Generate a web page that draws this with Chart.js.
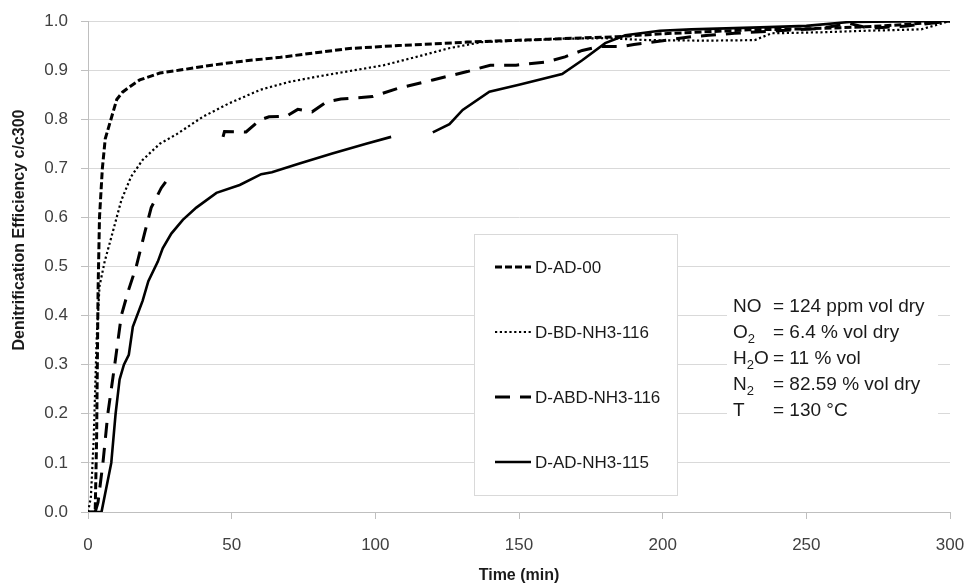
<!DOCTYPE html>
<html>
<head>
<meta charset="utf-8">
<script src="https://cdn.jsdelivr.net/npm/chart.js@4.4.1/dist/chart.umd.min.js"></script>
<style>
  html, body { margin: 0; padding: 0; background: #fff; }
  canvas { display: block; }
</style>
</head>
<body>
<canvas id="chart" width="969" height="584"></canvas>
<script>
// Denitrification efficiency vs time, four samples
const seriesNames = ['D-AD-00', 'D-BD-NH3-116', 'D-ABD-NH3-116', 'D-AD-NH3-115'];

// time (min) / efficiency c/c300 ; null = break in the line
const adTime = [0, 2.5, 3, 3.5, 4, 5, 6, 7.5, 10, 12, 14.5, 18, 25, 32, 43, 55, 67, 80, 91, 108, 132, 160, 184, 200, 230, 250, 270, 285, 300];
const adEff  = [0, 0, 0.15, 0.45, 0.6, 0.7, 0.76, 0.79, 0.84, 0.855, 0.866, 0.88, 0.894, 0.9, 0.91, 0.919, 0.926, 0.936, 0.944, 0.95, 0.957, 0.963, 0.968, 0.974, 0.982, 0.984, 0.988, 0.993, 1.0];

const bdTime = [0, 1, 2, 3, 4, 5.8, 8.6, 11.6, 15, 19, 25, 31, 40, 49, 60, 70, 80, 90, 103, 115, 126, 137, 150, 165, 180, 195, 215, 232, 238, 255, 270, 290, 300];
const bdEff  = [0, 0.03, 0.15, 0.35, 0.46, 0.51, 0.57, 0.635, 0.683, 0.717, 0.75, 0.77, 0.805, 0.832, 0.86, 0.876, 0.887, 0.897, 0.91, 0.928, 0.945, 0.957, 0.96, 0.964, 0.965, 0.961, 0.96, 0.961, 0.975, 0.977, 0.98, 0.983, 1.0];

const abdTime = [2.5, 3.5, 5.2, 6.9, 9.3, 11.6, 14, 16.8, 19.7, 22, 25.5, 28, 37, 47, 47.5, 55, 59.7, 63, 69, 73, 78, 83, 88, 99, 108, 120, 132, 140, 149, 160, 166, 172, 178, 186, 190, 194, 200, 210, 216, 225, 240, 255, 265, 272, 285, 300];
const abdEff  = [0, 0.02, 0.1, 0.2, 0.3, 0.4, 0.45, 0.5, 0.568, 0.62, 0.66, 0.68, null, 0.764, 0.775, 0.774, 0.798, 0.805, 0.806, 0.82, 0.815, 0.835, 0.841, 0.846, 0.863, 0.88, 0.897, 0.91, 0.91, 0.917, 0.927, 0.94, 0.948, 0.948, 0.952, 0.955, 0.96, 0.968, 0.971, 0.975, 0.98, 0.985, 0.995, 0.985, 0.99, 1.0];

const adnTime = [0, 4.7, 8.1, 9.6, 11, 12.5, 14.2, 15.6, 19, 21, 24.3, 26, 29, 33, 37.7, 44.7, 52.8, 60.3, 64, 73.6, 85, 96.8, 105.5, 112, 120, 125.8, 130.4, 139.7, 150, 165, 172, 180, 187, 199, 210, 234, 250, 265, 300];
const adnEff  = [0, 0, 0.1, 0.2, 0.27, 0.3, 0.32, 0.377, 0.43, 0.47, 0.51, 0.537, 0.567, 0.595, 0.62, 0.65, 0.666, 0.688, 0.692, 0.71, 0.73, 0.75, 0.764, null, 0.773, 0.79, 0.819, 0.856, 0.87, 0.892, 0.92, 0.955, 0.971, 0.98, 0.983, 0.987, 0.99, 0.998, 1.0];

// line looks: width + dash pattern
const lineWidths = [3, 2.2, 3, 2.6];
const lineDashes = [[7, 3], [2.2, 2.6], [15, 10], []];

// gas conditions box
const noteLines = [
  [['NO', false]],
  [['O', false], ['2', true]],
  [['H', false], ['2', true], ['O', false]],
  [['N', false], ['2', true]],
  [['T', false]]
];
const noteValues = ['= 124 ppm vol dry', '= 6.4 % vol dry', '= 11 % vol', '= 82.59 % vol dry', '= 130 °C'];

const yTitle = 'Denitrification Efficiency c/c300';

const FONT = "'Liberation Sans', Arial, sans-serif";

function toPoints(xs, ys) {
  return xs.map((x, i) => ({ x: x, y: ys[i] }));
}

const allData = [
  toPoints(adTime, adEff),
  toPoints(bdTime, bdEff),
  toPoints(abdTime, abdEff),
  toPoints(adnTime, adnEff)
];

const datasets = seriesNames.map((name, i) => ({
  label: name,
  data: allData[i],
  borderColor: '#000',
  borderWidth: lineWidths[i],
  borderDash: lineDashes[i],
  borderCapStyle: 'butt',
  pointRadius: 0,
  tension: 0,
  fill: false,
  spanGaps: false
}));

// Legend box, conditions text and the y title, drawn on top of the plot
const overlayPlugin = {
  id: 'overlay',
  afterDatasetsDraw(chart) {
    const ctx = chart.ctx;
    ctx.save();

    // legend box
    ctx.fillStyle = '#fff';
    ctx.fillRect(474, 234, 203, 261);
    ctx.strokeStyle = '#d9d9d9';
    ctx.lineWidth = 1;
    ctx.strokeRect(474.5, 234.5, 203, 261);

    const rowY = [267, 332, 397, 462];
    ctx.font = '17px ' + FONT;
    ctx.textBaseline = 'middle';
    ctx.textAlign = 'left';
    seriesNames.forEach((name, i) => {
      ctx.beginPath();
      ctx.setLineDash(lineDashes[i]);
      ctx.lineWidth = lineWidths[i];
      ctx.strokeStyle = '#000';
      ctx.moveTo(495, rowY[i]);
      ctx.lineTo(531, rowY[i]);
      ctx.stroke();
      ctx.setLineDash([]);
      ctx.fillStyle = '#1a1a1a';
      ctx.fillText(name, 535, rowY[i] + 1);
    });

    // conditions text
    ctx.fillStyle = '#fff';
    ctx.fillRect(727, 290, 211, 138);
    ctx.fillStyle = '#1a1a1a';
    ctx.textBaseline = 'alphabetic';
    const base = [311.5, 337.5, 363.5, 389.5, 415.5];
    noteLines.forEach((runs, i) => {
      let x = 733;
      runs.forEach(([t, sub]) => {
        ctx.font = (sub ? '13px ' : '19px ') + FONT;
        ctx.fillText(t, x, base[i] + (sub ? 5 : 0));
        x += ctx.measureText(t).width;
      });
      ctx.font = '19px ' + FONT;
      ctx.fillText(noteValues[i], 773, base[i]);
    });

    // y axis title (sits a bit above the plot centre in the original)
    ctx.translate(20, 230);
    ctx.rotate(-Math.PI / 2);
    ctx.font = 'bold 16px ' + FONT;
    ctx.textAlign = 'center';
    ctx.textBaseline = 'middle';
    ctx.fillStyle = '#1a1a1a';
    ctx.fillText(yTitle, 0, 0);

    ctx.restore();
  }
};

new Chart(document.getElementById('chart'), {
  type: 'line',
  data: { datasets: datasets },
  options: {
    responsive: false,
    animation: false,
    layout: { padding: { left: 0, right: 19, top: 21, bottom: 0 } },
    plugins: {
      legend: { display: false },
      tooltip: { enabled: false }
    },
    scales: {
      x: {
        type: 'linear',
        min: 0,
        max: 300,
        afterFit: s => { s.height = 72; s.paddingLeft = 0; s.paddingRight = 0; },
        ticks: {
          stepSize: 50,
          color: '#404040',
          font: { family: FONT, size: 17 },
          padding: 16,
          maxRotation: 0
        },
        grid: { drawOnChartArea: false, tickLength: 7, color: '#bfbfbf' },
        border: { color: '#bfbfbf' },
        title: {
          display: true,
          text: 'Time (min)',
          color: '#1a1a1a',
          font: { family: FONT, size: 16, weight: 'bold', lineHeight: 1 },
          padding: { top: 0, bottom: 0 }
        }
      },
      y: {
        min: 0,
        max: 1,
        afterFit: s => { s.width = 88; s.paddingTop = 0; s.paddingBottom = 0; },
        ticks: {
          stepSize: 0.1,
          color: '#404040',
          font: { family: FONT, size: 17 },
          padding: 13,
          callback: v => v.toFixed(1)
        },
        grid: { color: '#d9d9d9', tickLength: 7, tickColor: '#bfbfbf' },
        border: { color: '#bfbfbf' },
        title: { display: false }
      }
    }
  },
  plugins: [overlayPlugin]
});
</script>
</body>
</html>
